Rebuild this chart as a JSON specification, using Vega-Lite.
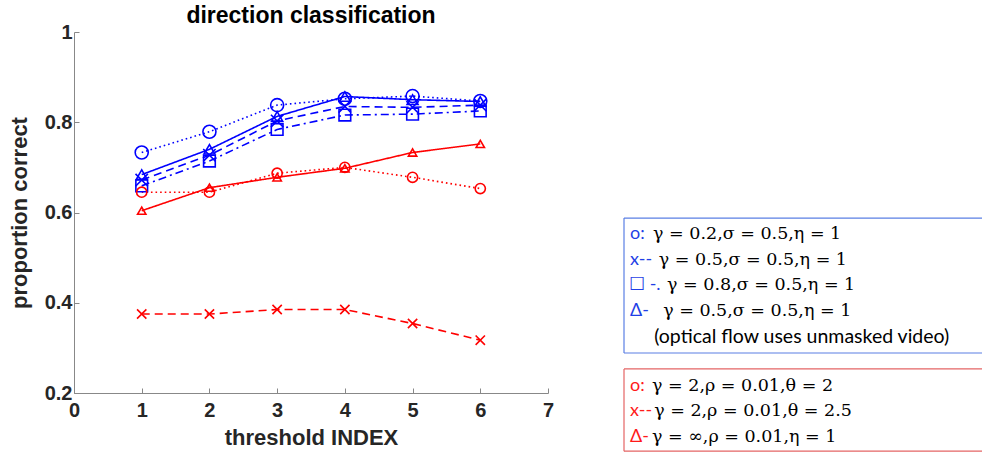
{
  "$schema": "https://vega.github.io/schema/vega-lite/v6.json",
  "background": "white",
  "padding": {"left": 8, "top": 5, "right": 0, "bottom": 0},
  "spacing": 69,
  "config": {"view": {"stroke": null}, "font": "Liberation Sans"},
  "datasets": {
    "perf": [
      {"series": "blue_o", "threshold": 1, "proportion": 0.733},
      {"series": "blue_o", "threshold": 2, "proportion": 0.779},
      {"series": "blue_o", "threshold": 3, "proportion": 0.838},
      {"series": "blue_o", "threshold": 4, "proportion": 0.852},
      {"series": "blue_o", "threshold": 5, "proportion": 0.858},
      {"series": "blue_o", "threshold": 6, "proportion": 0.847},
      {"series": "blue_x", "threshold": 1, "proportion": 0.672},
      {"series": "blue_x", "threshold": 2, "proportion": 0.727},
      {"series": "blue_x", "threshold": 3, "proportion": 0.803},
      {"series": "blue_x", "threshold": 4, "proportion": 0.835},
      {"series": "blue_x", "threshold": 5, "proportion": 0.833},
      {"series": "blue_x", "threshold": 6, "proportion": 0.838},
      {"series": "blue_sq", "threshold": 1, "proportion": 0.659},
      {"series": "blue_sq", "threshold": 2, "proportion": 0.714},
      {"series": "blue_sq", "threshold": 3, "proportion": 0.784},
      {"series": "blue_sq", "threshold": 4, "proportion": 0.816},
      {"series": "blue_sq", "threshold": 5, "proportion": 0.818},
      {"series": "blue_sq", "threshold": 6, "proportion": 0.825},
      {"series": "blue_tri", "threshold": 1, "proportion": 0.684},
      {"series": "blue_tri", "threshold": 2, "proportion": 0.740},
      {"series": "blue_tri", "threshold": 3, "proportion": 0.813},
      {"series": "blue_tri", "threshold": 4, "proportion": 0.857},
      {"series": "blue_tri", "threshold": 5, "proportion": 0.850},
      {"series": "blue_tri", "threshold": 6, "proportion": 0.846},
      {"series": "red_o", "threshold": 1, "proportion": 0.645},
      {"series": "red_o", "threshold": 2, "proportion": 0.645},
      {"series": "red_o", "threshold": 3, "proportion": 0.687},
      {"series": "red_o", "threshold": 4, "proportion": 0.700},
      {"series": "red_o", "threshold": 5, "proportion": 0.678},
      {"series": "red_o", "threshold": 6, "proportion": 0.653},
      {"series": "red_x", "threshold": 1, "proportion": 0.375},
      {"series": "red_x", "threshold": 2, "proportion": 0.375},
      {"series": "red_x", "threshold": 3, "proportion": 0.385},
      {"series": "red_x", "threshold": 4, "proportion": 0.385},
      {"series": "red_x", "threshold": 5, "proportion": 0.354},
      {"series": "red_x", "threshold": 6, "proportion": 0.317},
      {"series": "red_tri", "threshold": 1, "proportion": 0.604},
      {"series": "red_tri", "threshold": 2, "proportion": 0.655},
      {"series": "red_tri", "threshold": 3, "proportion": 0.678},
      {"series": "red_tri", "threshold": 4, "proportion": 0.698},
      {"series": "red_tri", "threshold": 5, "proportion": 0.733},
      {"series": "red_tri", "threshold": 6, "proportion": 0.752}
    ],
    "legend": [
      {"box": "blue", "line": 1, "sans": "o:", "sx": 0.017, "math": "γ = 0.2,σ = 0.5,η = 1", "mx": 0.081},
      {"box": "blue", "line": 2, "sans": "x--", "sx": 0.017, "math": "γ = 0.5,σ = 0.5,η = 1", "mx": 0.097},
      {"box": "blue", "line": 3, "sans": "☐ -.", "sx": 0.014, "math": "γ = 0.8,σ = 0.5,η = 1", "mx": 0.12},
      {"box": "blue", "line": 4, "sans": "Δ-", "sx": 0.017, "math": "γ = 0.5,σ = 0.5,η = 1", "mx": 0.109},
      {"box": "note", "line": 5, "sans": "(optical flow uses unmasked video)", "sx": 0.084, "math": "", "mx": 0.084},
      {"box": "red", "line": 6.9, "sans": "o:", "sx": 0.017, "math": "γ = 2,ρ = 0.01,θ = 2", "mx": 0.078},
      {"box": "red", "line": 7.9, "sans": "x--", "sx": 0.017, "math": "γ = 2,ρ = 0.01,θ = 2.5", "mx": 0.084},
      {"box": "red", "line": 8.9, "sans": "Δ-", "sx": 0.017, "math": "γ = ∞,ρ = 0.01,η = 1", "mx": 0.078}
    ],
    "boxes": [
      {"box": "blue", "x": 0, "x2": 0, "y": 0.38, "y2": 5.63},
      {"box": "blue", "x": 0, "x2": 1, "y": 0.38, "y2": 0.38},
      {"box": "blue", "x": 0, "x2": 1, "y": 5.63, "y2": 5.63},
      {"box": "red", "x": 0, "x2": 0, "y": 6.25, "y2": 9.45},
      {"box": "red", "x": 0, "x2": 1, "y": 6.25, "y2": 6.25},
      {"box": "red", "x": 0, "x2": 1, "y": 9.45, "y2": 9.45}
    ]
  },
  "hconcat": [
    {
      "width": 474,
      "height": 361,
      "title": {"text": "direction classification", "fontSize": 23, "fontWeight": "bold", "color": "#000000", "offset": -6, "anchor": "middle", "frame": "group", "font": "Liberation Sans"},
      "data": {"name": "perf"},
      "encoding": {
        "x": {
          "field": "threshold", "type": "quantitative",
          "scale": {"domain": [0, 7], "nice": false, "zero": false},
          "axis": {
            "values": [0, 1, 2, 3, 4, 5, 6, 7], "title": "threshold INDEX", "grid": false,
            "tickSize": -5, "labelPadding": 12, "labelFontSize": 20, "labelFontWeight": "bold",
            "labelColor": "#262626", "titleFontSize": 22, "titleFontWeight": "bold", "titleColor": "#262626",
            "titlePadding": 7, "domainColor": "#888888", "tickColor": "#888888", "labelFlush": false, "labelFont": "Liberation Sans", "titleFont": "Liberation Sans"
          }
        },
        "y": {
          "field": "proportion", "type": "quantitative",
          "scale": {"domain": [0.2, 1], "nice": false, "zero": false},
          "axis": {
            "values": [0.2, 0.4, 0.6, 0.8, 1], "labelExpr": "format(datum.value, '~g')", "title": "proportion correct", "grid": false,
            "tickSize": -5, "labelPadding": 7, "labelFontSize": 20, "labelFontWeight": "bold",
            "labelColor": "#262626", "titleFontSize": 22, "titleFontWeight": "bold", "titleColor": "#262626",
            "titlePadding": 13, "domainColor": "#888888", "tickColor": "#888888", "labelFlush": false, "labelFont": "Liberation Sans", "titleFont": "Liberation Sans"
          }
        },
        "color": {
          "field": "series", "type": "nominal", "legend": null,
          "scale": {
            "domain": ["blue_o", "blue_x", "blue_sq", "blue_tri", "red_o", "red_x", "red_tri"],
            "range": ["#0000ff", "#0000ff", "#0000ff", "#0000ff", "#ff0000", "#ff0000", "#ff0000"]
          }
        }
      },
      "layer": [
        {
          "mark": {"type": "line", "strokeWidth": 1.6},
          "encoding": {
            "strokeDash": {
              "field": "series", "type": "nominal", "legend": null,
              "scale": {
                "domain": ["blue_o", "blue_x", "blue_sq", "blue_tri", "red_o", "red_x", "red_tri"],
                "range": [[1.6, 3], [8, 5], [8, 4, 2, 4], [1, 0], [1.6, 3], [8, 5], [1, 0]]
              }
            }
          }
        },
        {
          "mark": {"type": "point", "filled": false, "strokeWidth": 1.6, "opacity": 1},
          "encoding": {
            "shape": {
              "field": "series", "type": "nominal", "legend": null,
              "scale": {
                "domain": ["blue_o", "blue_x", "blue_sq", "blue_tri", "red_o", "red_x", "red_tri"],
                "range": ["circle", "M-1,-1L1,1M1,-1L-1,1", "square", "triangle-up", "circle", "M-1,-1L1,1M1,-1L-1,1", "triangle-up"]
              }
            },
            "size": {
              "field": "series", "type": "nominal", "legend": null,
              "scale": {
                "domain": ["blue_o", "blue_x", "blue_sq", "blue_tri", "red_o", "red_x", "red_tri"],
                "range": [170, 70, 115, 200, 170, 70, 200]
              }
            }
          }
        }
      ]
    },
    {
      "width": 359,
      "height": 421,
      "layer": [
        {
          "data": {"name": "boxes"},
          "mark": {"type": "rule", "strokeWidth": 1.2},
          "encoding": {
            "x": {"field": "x", "type": "quantitative", "scale": {"domain": [0, 1], "nice": false, "zero": false}, "axis": null},
            "x2": {"field": "x2"},
            "y": {"field": "y", "type": "quantitative", "scale": {"domain": [-6.86, 9.52], "nice": false, "zero": false, "reverse": true}, "axis": null},
            "y2": {"field": "y2"},
            "color": {"field": "box", "type": "nominal", "legend": null, "scale": {"domain": ["blue", "red", "note"], "range": ["#5a7fe4", "#e46464", "#000000"]}}
          }
        },
        {
          "data": {"name": "legend"},
          "transform": [{"filter": "datum.box != 'note'"}],
          "mark": {"type": "text", "align": "left", "baseline": "middle", "font": "Lato", "fontSize": 18},
          "encoding": {
            "x": {"field": "sx", "type": "quantitative", "scale": {"domain": [0, 1], "nice": false, "zero": false}, "axis": null},
            "y": {"field": "line", "type": "quantitative", "scale": {"domain": [-6.86, 9.52], "nice": false, "zero": false, "reverse": true}, "axis": null},
            "text": {"field": "sans"},
            "color": {"field": "box", "type": "nominal", "legend": null, "scale": {"domain": ["blue", "red", "note"], "range": ["#1f3fe6", "#ff1a1a", "#000000"]}}
          }
        },
        {
          "data": {"name": "legend"},
          "transform": [{"filter": "datum.box == 'note'"}],
          "mark": {"type": "text", "align": "left", "baseline": "middle", "font": "Lato", "fontSize": 19.5, "color": "#000000"},
          "encoding": {
            "x": {"field": "sx", "type": "quantitative", "scale": {"domain": [0, 1], "nice": false, "zero": false}, "axis": null},
            "y": {"field": "line", "type": "quantitative", "scale": {"domain": [-6.86, 9.52], "nice": false, "zero": false, "reverse": true}, "axis": null},
            "text": {"field": "sans"}
          }
        },
        {
          "data": {"name": "legend"},
          "mark": {"type": "text", "align": "left", "baseline": "middle", "font": "DejaVu Serif", "fontSize": 17.5, "color": "#000000"},
          "encoding": {
            "x": {"field": "mx", "type": "quantitative", "scale": {"domain": [0, 1], "nice": false, "zero": false}, "axis": null},
            "y": {"field": "line", "type": "quantitative", "scale": {"domain": [-6.86, 9.52], "nice": false, "zero": false, "reverse": true}, "axis": null},
            "text": {"field": "math"}
          }
        }
      ],
      "resolve": {"scale": {"color": "independent"}}
    }
  ]
}
